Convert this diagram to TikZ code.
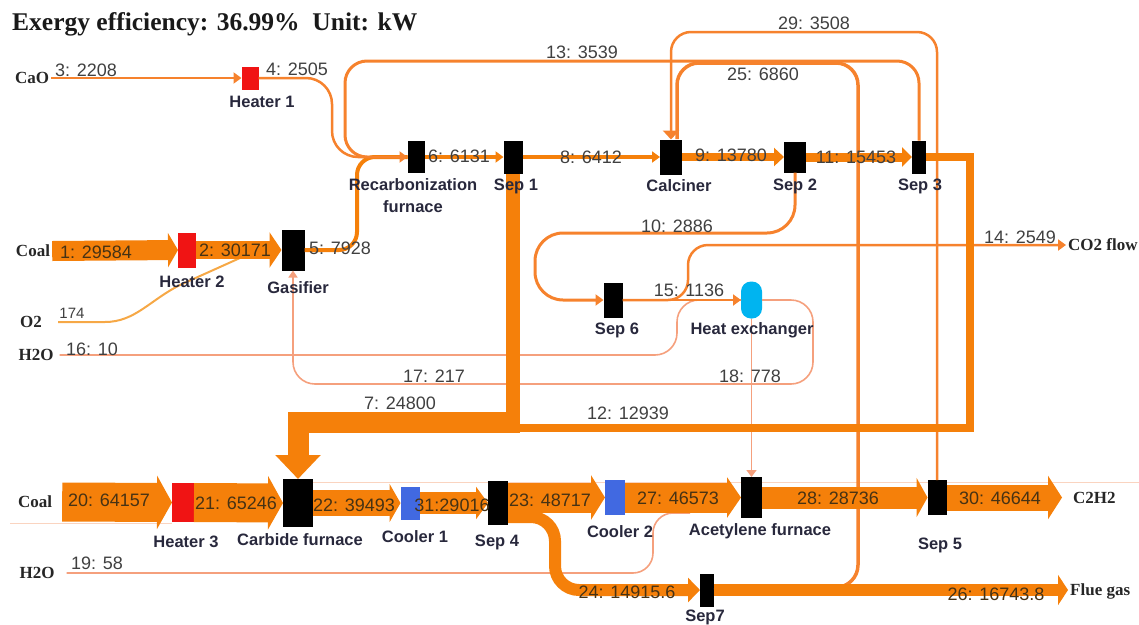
\documentclass[tikz,border=0pt]{standalone}
\usepackage{fontspec}
\setmainfont{Liberation Serif}
\setsansfont{Liberation Sans}
\usetikzlibrary{arrows.meta,calc}
\definecolor{org}{RGB}{245,128,10}
\definecolor{orgt}{RGB}{246,130,45}
\definecolor{salm}{RGB}{245,160,125}
\definecolor{o2c}{RGB}{246,168,70}
\definecolor{faintc}{RGB}{250,212,192}
\definecolor{redb}{RGB}{240,20,20}
\definecolor{blueb}{RGB}{65,105,225}
\definecolor{cyanb}{RGB}{0,180,240}
\definecolor{numc}{RGB}{64,64,64}
\definecolor{inc}{RGB}{70,50,20}
\definecolor{nlc}{RGB}{40,40,60}
\begin{document}
\begin{tikzpicture}[x=1pt,y=-1pt,
  box/.style={draw=none,inner sep=0pt,outer sep=0pt},
  blk/.style={box,fill=black},
  redbox/.style={box,fill=redb},
  bluebox/.style={box,fill=blueb},
  num/.style={font=\sffamily\fontsize{18}{20}\selectfont,text=numc,inner sep=0pt},
  innum/.style={font=\sffamily\fontsize{18}{20}\selectfont,text=inc,inner sep=0pt},
  nlab/.style={font=\sffamily\bfseries\fontsize{16.5}{22}\selectfont,text=nlc,inner sep=0pt,align=center},
  ext/.style={font=\bfseries\fontsize{17}{20}\selectfont,text=black!85,inner sep=2pt},
  thinline/.style={draw=orgt,line width=2.5pt},
  salmon/.style={draw=salm,line width=1.6pt},
  band/.style={draw=org},
  atip/.style={-{Triangle[length=8pt,width=11pt]}},
]
\useasboundingbox (0,0) rectangle (1139,624);

% faint background lines
\draw[faintc,line width=1pt] (10,523) -- (172,523);
\draw[faintc,line width=1pt] (313,482) -- (1139,482);

% title and external labels
\node[anchor=west,font=\bfseries\fontsize{25.5}{30}\selectfont,text=black!90,inner sep=0pt] (title) at (12,24) {Exergy efficiency: 36.99\%\ \ Unit: kW};
\node[ext] (cao) at (32,78) {CaO};
\node[ext] (coal1) at (33,251) {Coal};
\node[ext] (o2) at (31,322) {O2};
\node[ext] (h2oa) at (36,355) {H2O};
\node[ext] (coal2) at (35,502) {Coal};
\node[ext] (h2ob) at (37,573) {H2O};
\node[ext,anchor=west] (co2) at (1066,245) {CO2 flow};
\node[ext,anchor=west] (c2h2) at (1071,498) {C2H2};
\node[ext,anchor=west] (flue) at (1068,591) {Flue gas};

% equipment
\node[redbox,minimum width=17,minimum height=23] (h1) at (250,78) {};
\node[blk,minimum width=17,minimum height=32] (rec) at (416,157) {};
\node[blk,minimum width=19,minimum height=33] (sep1) at (513,157) {};
\node[blk,minimum width=22,minimum height=35] (calc) at (671,157) {};
\node[blk,minimum width=22,minimum height=31] (sep2) at (795,157) {};
\node[blk,minimum width=14,minimum height=33] (sep3) at (919,157) {};
\node[redbox,minimum width=18,minimum height=35] (h2) at (187,250) {};
\node[blk,minimum width=23,minimum height=41] (gas) at (293,250) {};
\node[blk,minimum width=19,minimum height=35] (sep6) at (613,300) {};
\node[box,fill=cyanb,minimum width=21,minimum height=37,rounded corners=10pt] (hx) at (751.5,300) {};
\node[redbox,minimum width=22,minimum height=39] (h3) at (183,502.5) {};
\node[blk,minimum width=30,minimum height=48] (carb) at (298,503) {};
\node[bluebox,minimum width=19,minimum height=33] (cool1) at (410,503) {};
\node[blk,minimum width=20,minimum height=44] (sep4) at (498,503) {};
\node[bluebox,minimum width=20,minimum height=35] (cool2) at (615,497.5) {};
\node[blk,minimum width=21,minimum height=41] (acet) at (751.5,497.5) {};
\node[blk,minimum width=19,minimum height=35] (sep5) at (937,497.5) {};
\node[blk,minimum width=14,minimum height=33] (sep7) at (707,590) {};

% junction coordinates
\coordinate (j12) at (514,428);
\coordinate (j7) at (513,432);
\coordinate (j7a) at (520,422);
\coordinate (c19) at (690,513);
\coordinate (c02) at (240,258);
\coordinate (c25) at (677,139);
\coordinate (s24) at (508,517);
\coordinate (e30) at (1062,497.5);

% thin streams
\draw[salmon] ([xshift=4pt]h2oa.east) -- (655,355) to[out=0,in=-90] (677,333) -- (677,322) to[out=90,in=180] (699,300) -- (hx.west);
\draw[salmon,rounded corners=22pt,-{Triangle[length=7pt,width=9pt]}] (hx.east) -- (813,300) -- (813,384) -- (293,384) -- (gas.south);
\draw[salmon,-{Triangle[length=7pt,width=10pt]}] (hx.south) -- (acet.north);
\draw[salmon,rounded corners=20pt] ([xshift=10pt]h2ob.east) -- (653,573) -- (653,513) -- (c19);
\draw[draw=o2c,line width=2pt] ([xshift=14pt]o2.east) -- (105,322) .. controls (135,322) and (150,300) .. (180,285) -- (c02);
\draw[thinline,atip] (cao.east) -- (h1.west);
\draw[draw=orgt,line width=3pt,rounded corners=22pt] (sep3.north) -- (919,61) -- (345,61) -- (345,157) -- (rec.west);
\draw[draw=org,line width=4pt,rounded corners=18pt] (gas.east) -- (357,250) -- (357,157) -- (rec.west);
\draw[thinline,atip,rounded corners=26pt] (h1.east) -- (332,78) -- (332,157) -- (rec.west);
\draw[draw=orgt,line width=2.5pt,rounded corners=20pt,-{Triangle[length=9pt,width=16pt]}] (sep5.north) -- (937,32) -- (671,32) -- (calc.north);
\draw[draw=orgt,line width=3.5pt,rounded corners=22pt] (sep7.east) -- (858,587) -- (858,63) -- (677,63) -- (c25);
\draw[draw=orgt,line width=3pt,rounded corners=28pt,atip] (sep2.south) -- (795,233) -- (535,233) -- (535,300) -- (sep6.west);
\draw[draw=orgt,line width=2.5pt,atip] (sep6.east) -- (hx.west);
\draw[draw=orgt,line width=2.5pt,rounded corners=20pt,atip] (sep6.east) -- (688,300) -- (688,245) -- (co2.west);

% medium streams
\draw[draw=org,line width=4pt,atip] (rec.east) -- (sep1.west);
\draw[draw=org,line width=4pt,atip] (sep1.east) -- (calc.west);
\draw[draw=org,line width=8pt,-{Triangle[length=10pt,width=18pt]}] (calc.east) -- (sep2.west);
\draw[draw=org,line width=9pt,-{Triangle[length=10pt,width=19pt]}] (sep2.east) -- (sep3.west);
\draw[draw=org,line width=8pt] (sep3.east) -- (970,157) -- (970,428) -- (j12);
\draw[draw=org,line width=14pt] (sep1.south) -- (j7);
\draw[draw=org,line width=21pt,-{Triangle[length=24pt,width=44pt]}] (j7a) -- (298,422) -- (carb.north);

% thick streams
\draw[band,line width=20pt,-{Triangle[length=10pt,width=34pt]}] (coal1.east) -- (h2.west);
\draw[band,line width=18pt,-{Triangle[length=12pt,width=35pt]}] (h2.east) -- (gas.west);
\draw[band,line width=39pt,-{Triangle[length=15pt,width=53pt]}] ([xshift=8pt]coal2.east) -- (h3.west);
\draw[band,line width=39pt,-{Triangle[length=15pt,width=53pt]}] (h3.east) -- (carb.west);
\draw[band,line width=26pt,-{Triangle[length=11pt,width=38pt]}] (carb.east) -- (cool1.west);
\draw[band,line width=22pt,-{Triangle[length=12pt,width=32pt]}] (cool1.east) -- (sep4.west);
\draw[band,line width=30pt,-{Triangle[length=14pt,width=44pt]}] (sep4.east |- cool2.west) -- (cool2.west);
\draw[band,line width=30pt,-{Triangle[length=14pt,width=40pt]}] (cool2.east) -- (acet.west);
\draw[band,line width=22pt,-{Triangle[length=11pt,width=39pt]}] (acet.east) -- (sep5.west);
\draw[band,line width=26pt,-{Triangle[length=14pt,width=43pt]}] (sep5.east) -- (e30);
\draw[band,line width=12pt,rounded corners=24pt,-{Triangle[length=12pt,width=24pt]}] (s24) -- (555,517) -- (555,590) -- (sep7.west);
\draw[band,line width=12pt,-{Triangle[length=10pt,width=30pt]}] (sep7.east) -- (sep7.east -| flue.west);

% equipment labels
\node[nlab] (lh1) at (262,102) {Heater 1};
\node[nlab] (lrec) at (413,196) {Recarbonization\\furnace};
\node[nlab] (ls1) at (516,186) {Sep 1};
\node[nlab] (lcalc) at (679,186) {Calciner};
\node[nlab] (ls2) at (795,186) {Sep 2};
\node[nlab] (ls3) at (920,186) {Sep 3};
\node[nlab] (lh2) at (192,282) {Heater 2};
\node[nlab] (lgas) at (298,288) {Gasifier};
\node[nlab] (ls6) at (617,330) {Sep 6};
\node[nlab] (lhx) at (752,330) {Heat exchanger};
\node[nlab] (lh3) at (186,542) {Heater 3};
\node[nlab] (lcarb) at (300,540) {Carbide furnace};
\node[nlab] (lc1) at (415,537) {Cooler 1};
\node[nlab] (ls4) at (497,542) {Sep 4};
\node[nlab] (lc2) at (620,532) {Cooler 2};
\node[nlab] (lacet) at (760,531) {Acetylene furnace};
\node[nlab] (ls5) at (940,545) {Sep 5};
\node[nlab] (ls7) at (705,617) {Sep7};

% stream labels
\node[num] (l3) at (86,70) {3: 2208};
\node[num] (l4) at (297,69) {4: 2505};
\node[num] (l13) at (582,52) {13: 3539};
\node[num] (l29) at (814,23) {29: 3508};
\node[num] (l25) at (763,74) {25: 6860};
\node[num] (l6) at (459,156) {6: 6131};
\node[num] (l8) at (591,157) {8: 6412};
\node[num] (l9) at (731,155) {9: 13780};
\node[num] (l11) at (856,157) {11: 15453};
\node[num] (l5) at (340,248) {5: 7928};
\node[innum] (l1) at (96,252) {1: 29584};
\node[innum] (l2) at (235,250) {2: 30171};
\node[num] (l10) at (677,226) {10: 2886};
\node[num] (l14) at (1020,237) {14: 2549};
\node[num] (l15) at (689,290) {15: 1136};
\node[num,font=\sffamily\fontsize{15}{17}\selectfont] (l174) at (72,313) {174};
\node[num] (l16) at (92,349) {16: 10};
\node[num] (l17) at (434,376) {17: 217};
\node[num] (l18) at (750,376) {18: 778};
\node[num] (l7) at (400,403) {7: 24800};
\node[num] (l12) at (628,413) {12: 12939};
\node[innum] (l20) at (109,500) {20: 64157};
\node[innum] (l21) at (236,503) {21: 65246};
\node[innum] (l22) at (354,505) {22: 39493};
\node[innum] (l31) at (452,505) {31:29016};
\node[innum] (l23) at (550,500) {23: 48717};
\node[innum] (l27) at (678,498) {27: 46573};
\node[innum] (l28) at (838,498) {28: 28736};
\node[innum] (l30) at (1000,498) {30: 46644};
\node[num] (l19) at (97,563) {19: 58};
\node[innum] (l24) at (627,592) {24: 14915.6};
\node[innum] (l26) at (996,594) {26: 16743.8};
\end{tikzpicture}
\end{document}
